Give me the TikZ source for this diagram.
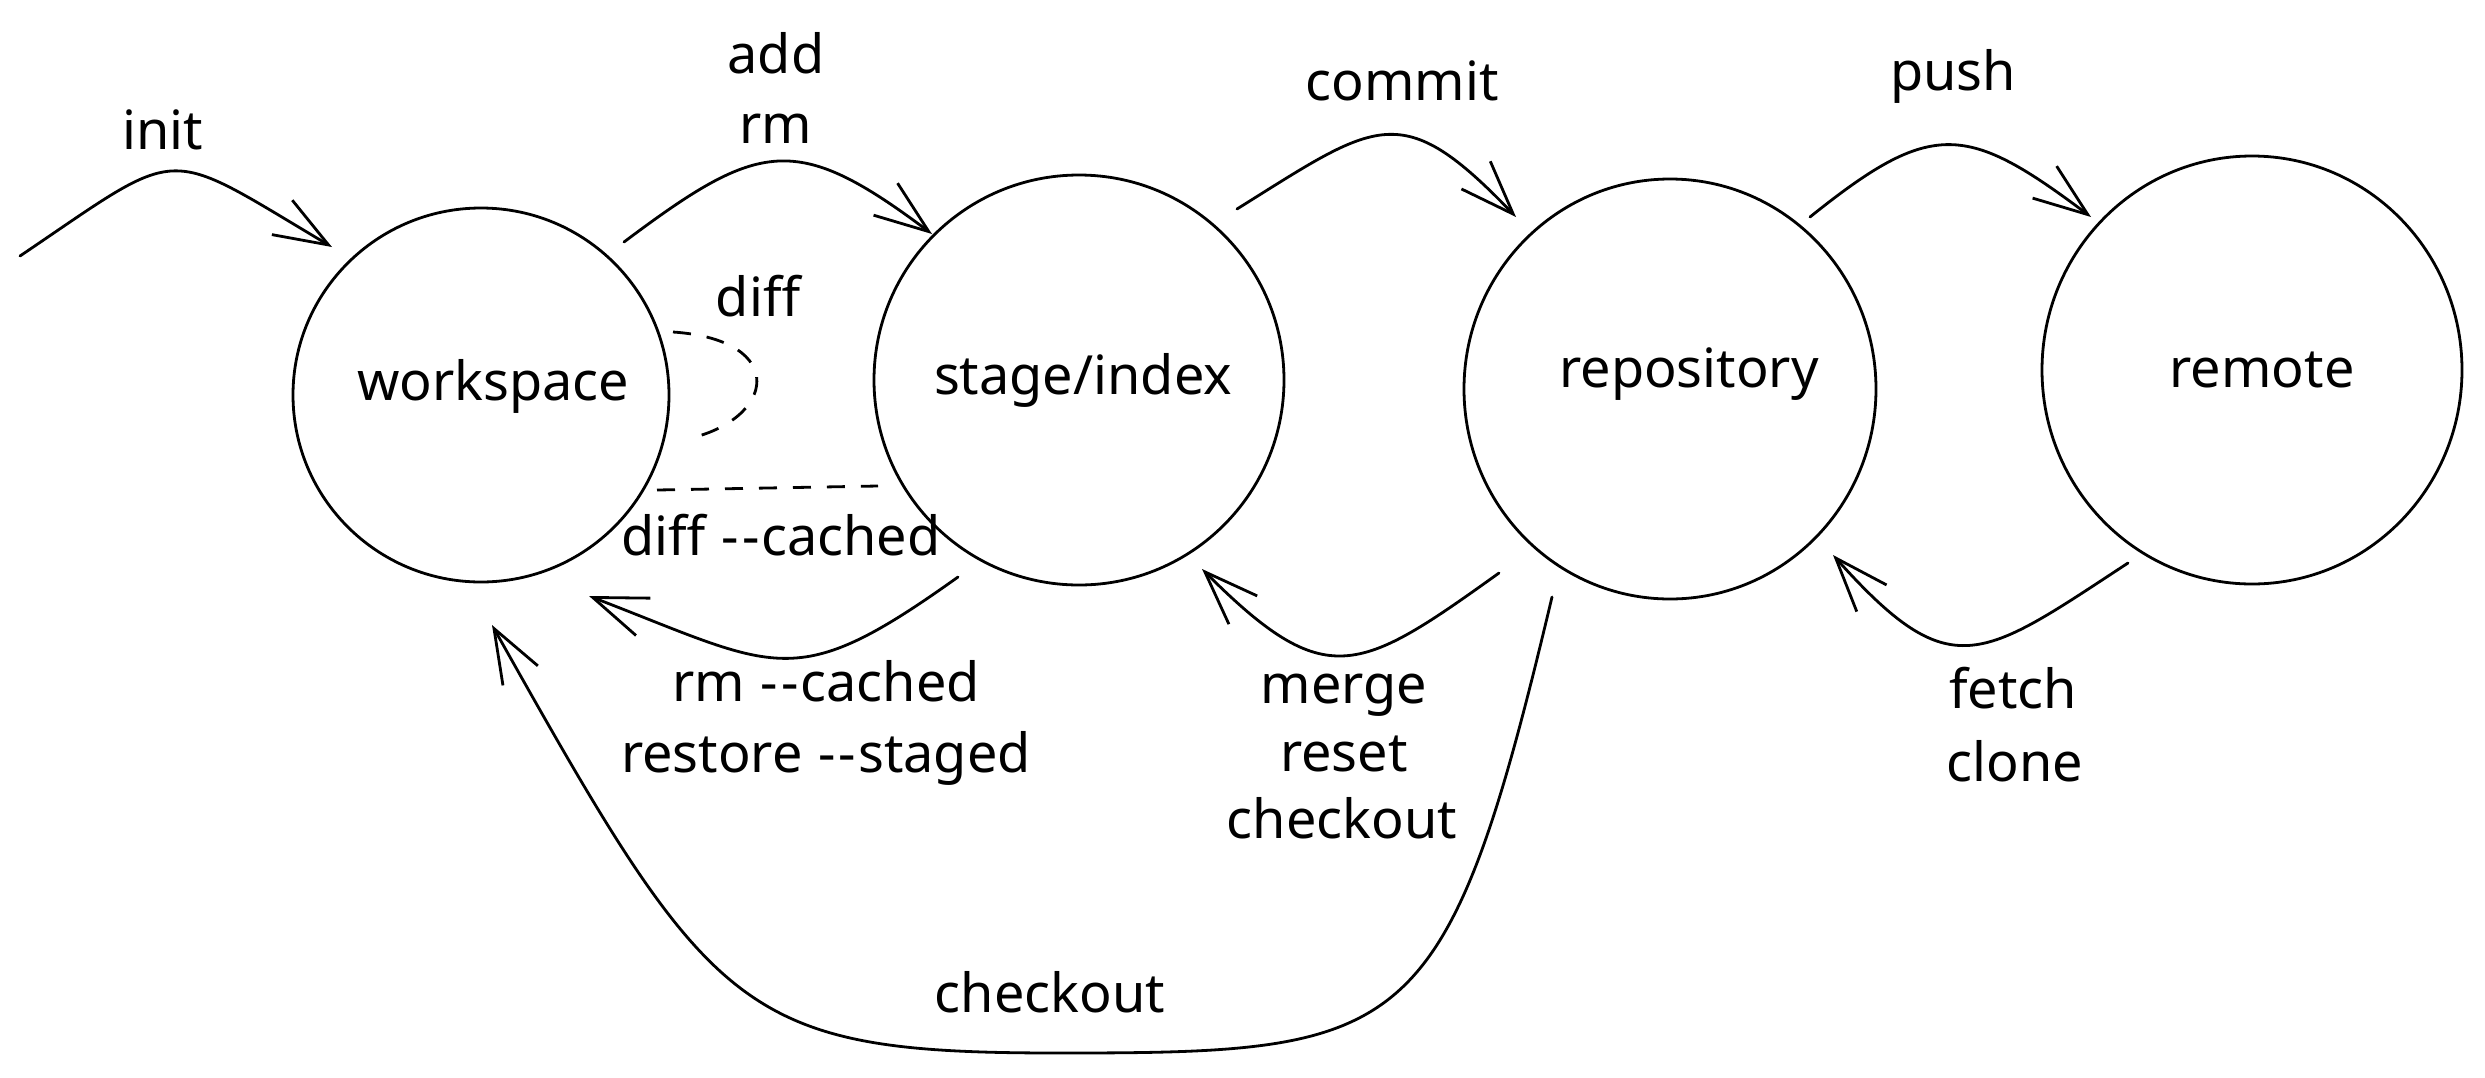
\documentclass[tikz,border=0pt]{standalone}
\usepackage{fontspec}
\setmainfont{Noto Sans}[Ligatures=TeXOff]
\usetikzlibrary{shapes.geometric,arrows.meta,calc}
\newcommand\dashdash{\kern2pt-\kern3pt-\kern2pt}
\tikzset{
  state/.style={ellipse, draw, line width=2.8pt, inner sep=0pt},
  lbl/.style={anchor=base, inner sep=0pt, font=\fontsize{54pt}{70pt}\selectfont},
  arr/.style={line width=2.8pt, line cap=round, line join=round, -{Straight Barb[length=54pt,width=40pt]}},
  dsh/.style={line width=2.8pt, dash pattern=on 18pt off 16pt},
}
\begin{document}
\begin{tikzpicture}[x=1pt,y=1pt]
\path[use as bounding box] (0,0) rectangle (2485,-1077);
% states
\node[state, minimum width=376pt, minimum height=374pt] (ws) at (481,-395) {};
\node[state, minimum width=410pt, minimum height=410pt] (st) at (1079,-380) {};
\node[state, minimum width=412pt, minimum height=420pt] (rp) at (1670,-389) {};
\node[state, minimum width=420pt, minimum height=428pt] (rm) at (2252,-370) {};
\node[lbl] (wsl) at (493,-400) {workspace};
\node[lbl] (stl) at (1083,-394) {stage/index};
\node[lbl] (rpl) at (1689,-387) {repository};
\node[lbl] (rml) at (2262,-387) {remote};
% labels
\node[lbl] (tinit) at (163,-149) {init};
\node[lbl] (tadd) at (776,-73) {add};
\node[lbl] (trm) at (776,-143) {rm};
\node[lbl] (tcommit) at (1402,-100) {commit};
\node[lbl] (tpush) at (1953,-90) {push};
\node[lbl] (tdiff) at (758,-316) {diff};
\node[lbl] (tdiffc) at (781,-555) {diff \dashdash cached};
\node[lbl] (trmc) at (826,-701) {rm \dashdash cached};
\node[lbl] (trest) at (826,-772) {restore \dashdash staged};
\node[lbl] (tmerge) at (1344,-703) {merge};
\node[lbl] (treset) at (1344,-771) {reset};
\node[lbl] (tchk1) at (1342,-838) {checkout};
\node[lbl] (tfetch) at (2013,-708) {fetch};
\node[lbl] (tclone) at (2015,-781) {clone};
\node[lbl] (tchk2) at (1050,-1012) {checkout};
% arrows
\coordinate (i0) at (20,-256);
\draw[arr] (i0) .. controls (186,-144) and (160,-145) .. ($(ws)+(-149,148)$);
\draw[arr] ($(ws)+(143,153)$) .. controls (760,-140) and (796,-132) .. ($(st)+(-147,146)$);
\draw[arr] ($(st)+(158,171)$) .. controls (1378,-121) and (1401,-97) .. ($(rp)+(-154,172)$);
\draw[arr] ($(rp)+(140,172)$) .. controls (1932,-119) and (1966,-123) .. ($(rm)+(-161,153)$);
\draw[arr] ($(st)+(-121,-197)$) .. controls (793,-695) and (779,-669) .. ($(ws)+(108,-201)$);
\draw[arr] ($(rp)+(-171,-184)$) .. controls (1358,-674) and (1326,-693) .. ($(st)+(123,-189)$);
\draw[arr] ($(rm)+(-124,-193)$) .. controls (1980,-660) and (1951,-687) .. ($(rp)+(163,-166)$);
\draw[arr] ($(rp)+(-118,-208)$) .. controls (1446,-1043) and (1409,-1053) .. (1059,-1053)
  .. controls (739,-1053) and (712,-1017) .. ($(ws)+(11,-230)$);
% dashed
\draw[dsh] ($(ws)+(192,63)$) .. controls (790,-340) and (775,-420) .. ($(ws)+(206,-44)$);
\draw[dsh] ($(ws)+(176,-95)$) -- ($(st)+(-201,-106)$);
\end{tikzpicture}
\end{document}
